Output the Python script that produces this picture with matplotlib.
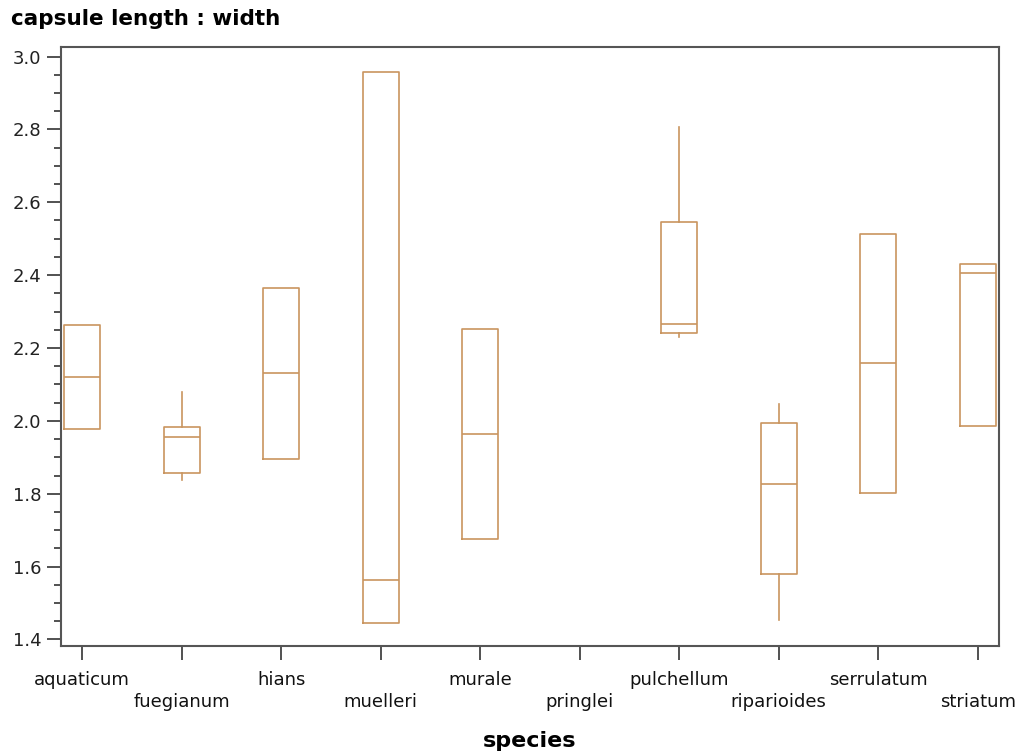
import numpy as np
import matplotlib
matplotlib.use("Agg")
import matplotlib.pyplot as plt
from matplotlib.ticker import MultipleLocator, FormatStrFormatter

species = ['aquaticum', 'fuegianum', 'hians', 'muelleri', 'murale',
           'pringlei', 'pulchellum', 'riparioides', 'serrulatum', 'striatum']

# summary stats per species (None = no data)
whisk_lo = [1.977, 1.839, 1.896, 1.445, 1.675, None, 2.229, 1.453, 1.803, 1.987]
q1       = [1.977, 1.856, 1.896, 1.445, 1.675, None, 2.240, 1.581, 1.803, 1.987]
median   = [2.119, 1.955, 2.132, 1.562, 1.964, None, 2.266, 1.826, 2.159, 2.405]
q3       = [2.262, 1.984, 2.364, 2.957, 2.252, None, 2.546, 1.994, 2.512, 2.431]
whisk_hi = [2.262, 2.078, 2.364, 2.957, 2.252, None, 2.806, 2.045, 2.512, 2.431]

box_color = '#c9955f'
axis_color = '#555555'

fig = plt.figure(figsize=(10.19, 7.56), dpi=100)
ax = fig.add_axes([61 / 1019, 1 - 646 / 756, (999 - 61) / 1019, (646 - 46.7) / 756])

stats = []
pos = []
for i, name in enumerate(species):
    if median[i] is None:
        continue
    stats.append(dict(med=median[i], q1=q1[i], q3=q3[i],
                      whislo=whisk_lo[i], whishi=whisk_hi[i], fliers=[]))
    pos.append(i)

line_kw = dict(color=box_color, linewidth=1.2)
ax.bxp(stats, positions=pos, widths=0.362, showcaps=False, showfliers=False,
       boxprops=line_kw, medianprops=line_kw, whiskerprops=line_kw)

ax.set_xlim(-0.214, 9.214)
ax.set_ylim(1.382, 3.027)

# stagger the species names over two rows
ax.set_xticks(range(len(species)))
labels = [s if i % 2 == 0 else '\n' + s for i, s in enumerate(species)]
ax.set_xticklabels(labels, fontsize=13, linespacing=1.3)

ax.yaxis.set_major_locator(MultipleLocator(0.2))
ax.yaxis.set_minor_locator(MultipleLocator(0.05))
ax.yaxis.set_major_formatter(FormatStrFormatter('%.1f'))
ax.tick_params(axis='y', which='major', length=10, width=1.2, color='#333333',
               labelsize=13, pad=4, labelcolor='#222222')
ax.tick_params(axis='y', which='minor', length=5, width=1.2, color='#333333')
ax.tick_params(axis='x', which='major', length=10, width=1.2, color='#333333',
               labelcolor='#111111', pad=8)

for sp in ax.spines.values():
    sp.set_color(axis_color)
    sp.set_linewidth(1.5)

ax.set_xlabel('species', fontsize=16, fontweight='bold', labelpad=14)
fig.text(11 / 1019, 1 - 19 / 756, 'capsule length : width', fontsize=15.5,
         fontweight='bold', ha='left', va='center')

fig.savefig('out.png', dpi=100)
